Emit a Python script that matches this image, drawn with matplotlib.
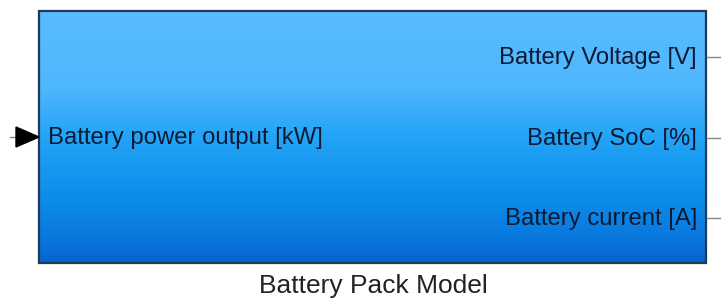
import matplotlib.pyplot as plt
import numpy as np
from matplotlib.colors import LinearSegmentedColormap

# block text
block_name = 'Battery Pack Model'
input_labels = ['Battery power output [kW]']
output_labels = ['Battery Voltage [V]', 'Battery SoC [%]', 'Battery current [A]']

plt.rcParams['font.family'] = ['Liberation Sans', 'DejaVu Sans']

fig = plt.figure(figsize=(7.21, 3.0), dpi=100)
ax = fig.add_axes([0, 0, 1, 1])
ax.set_xlim(0, 721)
ax.set_ylim(300, 0)
ax.axis('off')

# block geometry (pixels)
x0, x1, y0, y1 = 39, 706, 11, 263

# vertical gradient fill
cmap = LinearSegmentedColormap.from_list(
    'blk', [(0.0, '#58bcff'), (0.3, '#4fb7fe'), (0.5, '#22a4f7'),
            (0.75, '#0c8ce9'), (0.92, '#0a75dc'), (1.0, '#0762cf')])
grad = np.linspace(0, 1, 256).reshape(-1, 1)
ax.imshow(grad, cmap=cmap, aspect='auto', extent=(x0, x1, y1, y0), zorder=1)
ax.add_patch(plt.Rectangle((x0, y0), x1 - x0, y1 - y0, fill=False,
                           edgecolor='#1f3a52', lw=1.6, zorder=2))

# input port
yin = 137
ax.plot([10, 16], [yin, yin], color='#888888', lw=1, zorder=2)
ax.add_patch(plt.Polygon([[16, yin - 10], [16, yin + 10], [39, yin]],
                         closed=True, color='black', zorder=3))
for i, lab in enumerate(input_labels):
    ax.text(48, yin + 1, lab, fontsize=17.2, color='#0d1a33',
            ha='left', va='center', zorder=4)

# output ports
yout = [57, 138, 218]
for yy, lab in zip(yout, output_labels):
    ax.plot([x1 + 1, 721], [yy, yy], color='#888888', lw=1, zorder=2)
    ax.text(697, yy + 1, lab, fontsize=17.2, color='#0d1a33',
            ha='right', va='center', zorder=4)

ax.text(373, 286, block_name, fontsize=19, color='#222222',
        ha='center', va='center')

fig.savefig('out.png', dpi=100)
